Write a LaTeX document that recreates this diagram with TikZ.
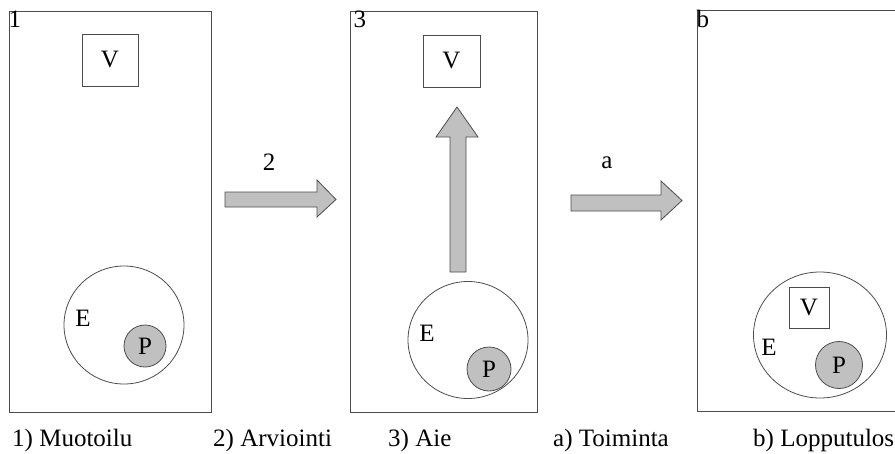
\documentclass[tikz,border=0pt]{standalone}
\usepackage{fontspec}
\setmainfont{Liberation Serif}
\usepackage{tikz}
\usetikzlibrary{shapes.geometric,positioning}
\definecolor{arrowgray}{RGB}{192,192,192}
\colorlet{linegray}{black!70}
\tikzset{
  panel/.style={draw=linegray, line width=1pt, rectangle, minimum width=#1, minimum height=401pt, inner sep=0pt},
  vbox/.style={draw=linegray, line width=1pt, rectangle, font=\fontsize{25}{29}\selectfont},
  ering/.style={draw=linegray, line width=0.8pt, ellipse, inner sep=0pt},
  pball/.style={draw=linegray, line width=0.8pt, fill=arrowgray, circle, inner sep=0pt, minimum size=#1, font=\fontsize{25}{29}\selectfont},
  letter/.style={font=\fontsize{25}{29}\selectfont, inner sep=1pt},
  caption/.style={font=\fontsize{25}{29}\selectfont, anchor=base west, inner sep=0pt},
  blockarrow/.style={draw=linegray, line width=0.8pt, fill=arrowgray, line join=miter}
}
\begin{document}
\begin{tikzpicture}[x=1pt, y=-1pt]
  \useasboundingbox (0,0) rectangle (895,453);
  \clip (0,0) rectangle (895,453);

  % three panels
  \node[panel=202pt] (p1) at (110,212) {};
  \node[panel=187pt] (p3) at (443.5,211.5) {};
  \node[panel=210pt] (pb) at (802,211) {};
  \node[letter, anchor=north west, inner sep=0pt] at (p1.north west) {1};
  \node[letter, anchor=north west, inner sep=0pt, xshift=4pt] at (p3.north west) {3};
  \node[letter, anchor=north west, inner sep=0pt] at (pb.north west) {b};

  % panel 1
  \node[vbox, minimum width=56pt, minimum height=52pt] (v1) at (110,60) {V};
  \node[ering, minimum width=120pt, minimum height=118pt] (e1) at (124,325) {};
  \node[letter] (e1l) at (83,318) {E};
  \node[pball=42pt] (pp1) at (145,346) {P};

  % panel 3
  \node[vbox, minimum width=57pt, minimum height=52pt] (v3) at (451.5,61) {V};
  \node[ering, minimum width=120pt, minimum height=117pt] (e3) at (468,340) {};
  \node[letter] (e3l) at (427,333) {E};
  \node[pball=44pt] (pp3) at (489,369) {P};

  % panel b
  \node[ering, minimum width=133pt, minimum height=126pt] (eb) at (820,335) {};
  \node[vbox, minimum width=40pt, minimum height=41pt, inner sep=0pt] (vb) at (809,307.5) {V};
  \node[letter] (ebl) at (769,347) {E};
  \node[pball=47pt] (ppb) at (839,365) {P};

  % block arrows
  \draw[blockarrow] (225,192) -- (317,192) -- (317,180) -- (336,199.5)
    -- (317,217) -- (317,207) -- (225,207) -- cycle;
  \draw[blockarrow] (571,195) -- (661,195) -- (661,181) -- (682,200.5)
    -- (661,220) -- (661,211) -- (571,211) -- cycle;
  \draw[blockarrow] (450,272) -- (450,137) -- (436,137) -- (457,107)
    -- (478,137) -- (466,137) -- (466,272) -- cycle;
  \node[letter, anchor=base] (n2) at (269,170) {2};
  \node[letter, anchor=base] (na) at (607,168) {a};

  % captions
  \node[caption] (c1) at (12,446) {1) Muotoilu};
  \node[caption] (c2) at (213,446) {2) Arviointi};
  \node[caption] (c3) at (388,446) {3) Aie};
  \node[caption] (ca) at (553,446) {a) Toiminta};
  \node[caption] (cb) at (753,446) {b) Lopputulos};
\end{tikzpicture}
\end{document}
